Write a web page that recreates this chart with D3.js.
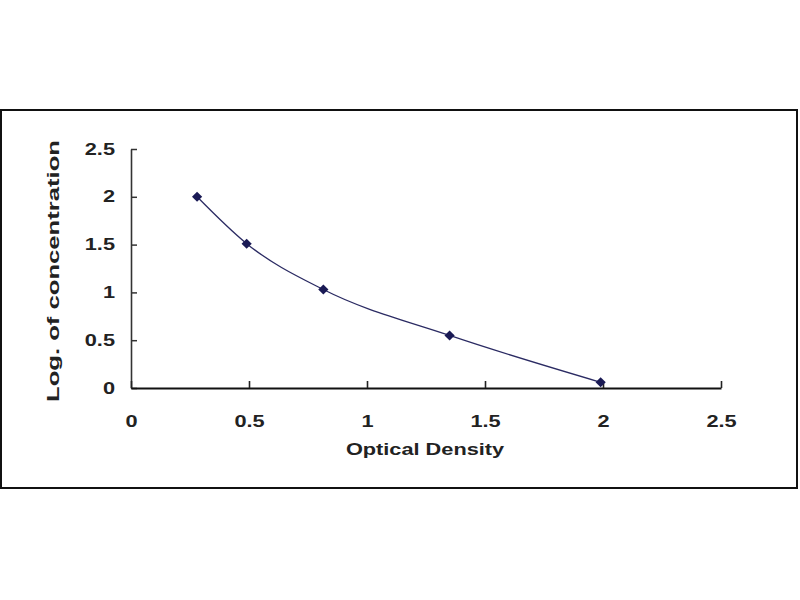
<!DOCTYPE html>
<html>
<head>
<meta charset="utf-8">
<script src="https://cdn.jsdelivr.net/npm/d3@7"></script>
<style>
  html, body { margin: 0; padding: 0; background: #fff; }
  text { font-family: "Liberation Sans", Arial, sans-serif; font-weight: bold; fill: #222; }
</style>
</head>
<body>
<svg id="chart" width="800" height="600"></svg>
<script>
// Data
const opticalDensity = [0.28, 0.49, 0.815, 1.35, 1.99];
const logConcentration = [2.0, 1.51, 1.03, 0.55, 0.06];
const xTicks = [0, 0.5, 1, 1.5, 2, 2.5];
const yTicks = [0, 0.5, 1, 1.5, 2, 2.5];
const xTitle = "Optical Density";
const yTitle = "Log. of concentration";

const points = opticalDensity.map((d, i) => ({ x: d, y: logConcentration[i] }));

const svg = d3.select("#chart");
const stretch = 1.36;

// Outer frame
svg.append("rect")
  .attr("x", 1).attr("y", 110).attr("width", 796).attr("height", 378)
  .attr("fill", "#fff").attr("stroke", "#111").attr("stroke-width", 2);

const x = d3.scaleLinear().domain([0, 2.5]).range([131, 721]);
const y = d3.scaleLinear().domain([0, 2.5]).range([388, 149]);

// Y axis
const yAxis = svg.append("g")
  .attr("transform", `translate(${x(0)},0)`)
  .call(d3.axisLeft(y).tickValues(yTicks).tickFormat(d3.format("")).tickSizeInner(-6).tickSizeOuter(0));
yAxis.select(".domain").attr("stroke", "#333").attr("stroke-width", 1.6);
yAxis.selectAll(".tick line").attr("stroke", "#333").attr("stroke-width", 1.5);
yAxis.selectAll(".tick text")
  .attr("x", -16 / stretch)
  .attr("transform", `scale(${stretch},1)`)
  .style("font-size", "16px")
  .attr("fill", "#222");

// X axis
const xAxis = svg.append("g")
  .attr("transform", `translate(0,${y(0)})`)
  .call(d3.axisBottom(x).tickValues(xTicks).tickFormat(d3.format("")).tickSizeInner(-7).tickSizeOuter(0));
xAxis.select(".domain").attr("stroke", "#111").attr("stroke-width", 2.2);
xAxis.selectAll(".tick line").attr("stroke", "#222").attr("stroke-width", 1.6);
xAxis.selectAll(".tick text")
  .attr("y", 39).attr("dy", 0)
  .attr("transform", `scale(${stretch},1)`)
  .style("font-size", "16px")
  .attr("fill", "#222");

// Axis titles
svg.append("text")
  .attr("transform", `translate(425,455) scale(${stretch},1)`)
  .attr("text-anchor", "middle")
  .style("font-size", "16px")
  .text(xTitle);

svg.append("text")
  .attr("transform", "translate(59,271) rotate(-90)")
  .attr("text-anchor", "middle")
  .attr("textLength", 262)
  .attr("lengthAdjust", "spacingAndGlyphs")
  .style("font-size", "17px")
  .text(yTitle);

// Curve
const line = d3.line()
  .x(d => x(d.x))
  .y(d => y(d.y))
  .curve(d3.curveMonotoneX);

svg.append("path")
  .datum(points)
  .attr("d", line)
  .attr("fill", "none")
  .attr("stroke", "#2b2b63")
  .attr("stroke-width", 1.3);

// Markers (squat diamonds)
svg.selectAll(".pt")
  .data(points)
  .enter().append("path")
  .attr("class", "pt")
  .attr("transform", d => `translate(${x(d.x)},${y(d.y)}) scale(1.5,0.85)`)
  .attr("d", d3.symbol().type(d3.symbolDiamond).size(40))
  .attr("fill", "#1a1a55");
</script>
</body>
</html>
